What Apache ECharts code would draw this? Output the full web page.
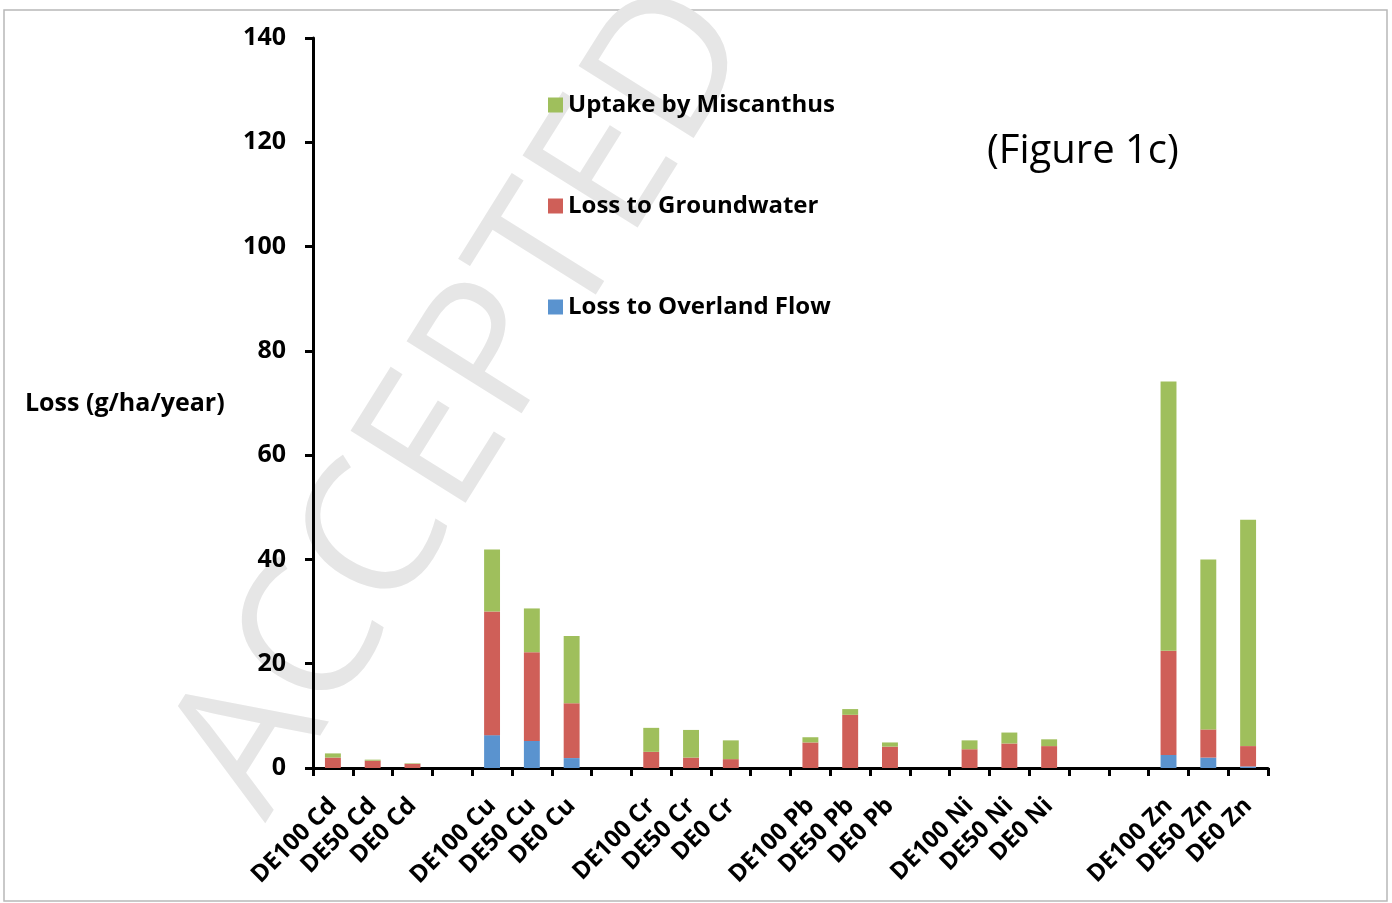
<!DOCTYPE html>
<html>
<head>
<meta charset="utf-8">
<script src="https://cdn.jsdelivr.net/npm/echarts@6/dist/echarts.min.js"></script>
<style>
  html, body { margin: 0; padding: 0; background: #fff; }
  #chart { width: 1392px; height: 903px; }
</style>
</head>
<body>
<div id="chart"></div>
<script>
// categories (blank ones are the gaps between metals)
var categories = ['DE100 Cd', 'DE50 Cd', 'DE0 Cd', '',
    'DE100 Cu', 'DE50 Cu', 'DE0 Cu', '',
    'DE100 Cr', 'DE50 Cr', 'DE0 Cr', '',
    'DE100 Pb', 'DE50 Pb', 'DE0 Pb', '',
    'DE100 Ni', 'DE50 Ni', 'DE0 Ni', '', '',
    'DE100 Zn', 'DE50 Zn', 'DE0 Zn'];

// g/ha/year
var overland = [0, 0, 0, null, 6.3, 5.2, 1.9, null, 0, 0, 0, null, 0, 0, 0, null, 0, 0, 0, null, null, 2.5, 2.0, 0.3];
var groundwater = [2.0, 1.4, 0.8, null, 23.7, 17.0, 10.5, null, 3.1, 2.0, 1.7, null, 4.9, 10.2, 4.1, null, 3.6, 4.7, 4.2, null, null, 20.0, 5.4, 3.9];
var uptake = [0.8, 0.2, 0.1, null, 11.9, 8.4, 12.9, null, 4.6, 5.3, 3.6, null, 1.0, 1.1, 0.8, null, 1.7, 2.1, 1.3, null, null, 51.6, 32.6, 43.4];

var yTicks = { min: 0, max: 140, interval: 20 };

var seriesNames = ['Loss to Overland Flow', 'Loss to Groundwater', 'Uptake by Miscanthus'];
var colors = ['#5a93cf', '#cf5f58', '#9fbf5c'];

var chart = echarts.init(document.getElementById('chart'));

var bold = { fontFamily: 'Open Sans', fontWeight: 'bold', color: '#000' };

var option = {
    backgroundColor: '#fff',
    animation: false,
    color: colors,
    grid: { left: 313, right: 124, top: 38, bottom: 135 },
    legend: {
        orient: 'vertical',
        left: 543,
        top: 88,
        itemWidth: 15,
        itemHeight: 15,
        itemGap: 77,
        icon: 'rect',
        data: [seriesNames[2], seriesNames[1], seriesNames[0]],
        textStyle: Object.assign({ fontSize: 24 }, bold)
    },
    xAxis: {
        type: 'category',
        data: categories,
        axisLine: { lineStyle: { color: '#000', width: 3 } },
        axisTick: { show: true, length: 8, lineStyle: { color: '#000', width: 3 } },
        axisLabel: Object.assign({ rotate: 45, interval: 0, fontSize: 24, margin: 34 }, bold)
    },
    yAxis: {
        type: 'value',
        min: yTicks.min,
        max: yTicks.max,
        interval: yTicks.interval,
        splitLine: { show: false },
        axisLine: { show: true, lineStyle: { color: '#000', width: 3 } },
        axisTick: { show: true, length: 8, lineStyle: { color: '#000', width: 3 } },
        axisLabel: Object.assign({ fontSize: 25, margin: 27 }, bold)
    },
    graphic: [
        {
            type: 'text', left: 25, top: 391, z: 10,
            style: { text: 'Loss (g/ha/year)', font: 'bold 25px "Open Sans"', fill: '#000' }
        },
        {
            type: 'text', left: 987, top: 132, z: 10,
            style: { text: '(Figure 1c)', font: '40px "Open Sans"', fill: '#000' }
        },
        {
            // watermark of the source pdf, kept behind the chart
            type: 'text', x: 300, y: 845, rotation: Math.PI * 58 / 180, z: -1,
            style: { text: 'ACCEPTED MANUSCRIPT', font: '190px "Open Sans"', fill: '#e6e6e6', textVerticalAlign: 'bottom' }
        },
        {
            type: 'rect', z: -2,
            shape: { x: 4, y: 10, width: 1383, height: 891 },
            style: { fill: null, stroke: '#b8b8b8', lineWidth: 1.5 }
        }
    ],
    series: seriesNames.map(function (name, i) {
        return {
            name: name,
            type: 'bar',
            stack: 'loss',
            barWidth: '40%',
            data: [overland, groundwater, uptake][i]
        };
    })
};

chart.setOption(option);
</script>
</body>
</html>
